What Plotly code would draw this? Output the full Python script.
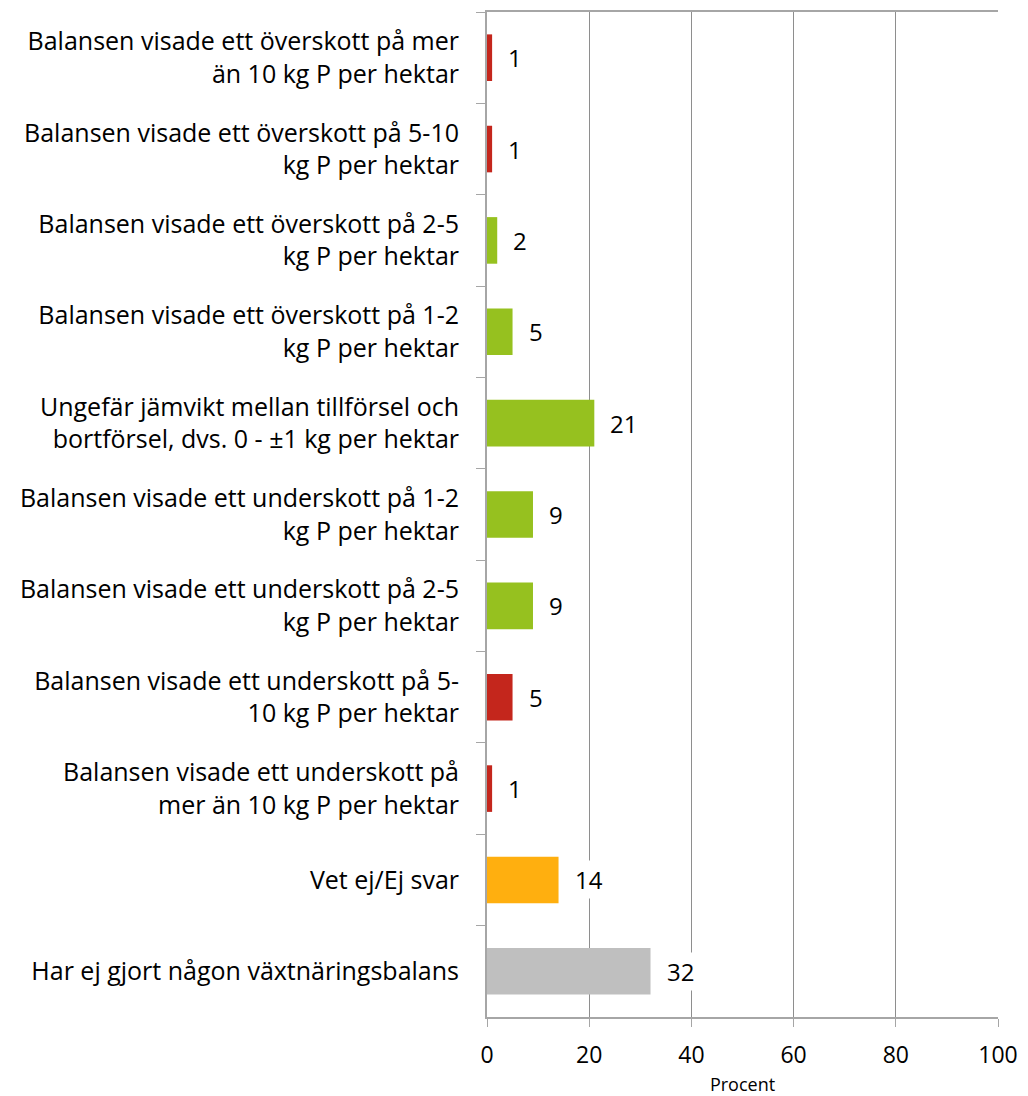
import plotly.graph_objects as go

# kategorier uppifrån och ned
categories = [
    "Balansen visade ett överskott på mer<br>än 10 kg P per hektar",
    "Balansen visade ett överskott på 5-10<br>kg P per hektar",
    "Balansen visade ett överskott på 2-5<br>kg P per hektar",
    "Balansen visade ett överskott på 1-2<br>kg P per hektar",
    "Ungefär jämvikt mellan tillförsel och<br>bortförsel, dvs. 0 - ±1 kg per hektar",
    "Balansen visade ett underskott på 1-2<br>kg P per hektar",
    "Balansen visade ett underskott på 2-5<br>kg P per hektar",
    "Balansen visade ett underskott på 5-<br>10 kg P per hektar",
    "Balansen visade ett underskott på<br>mer än 10 kg P per hektar",
    "Vet ej/Ej svar",
    "Har ej gjort någon växtnäringsbalans",
]
values = [1, 1, 2, 5, 21, 9, 9, 5, 1, 14, 32]

RED = "#C4261C"
GREEN = "#96C11F"
ORANGE = "#FFAF0F"
GRAY = "#BFBFBF"
colors = [RED, RED, GREEN, GREEN, GREEN, GREEN, GREEN, RED, RED, ORANGE, GRAY]

font = "Open Sans"

fig = go.Figure(go.Bar(
    x=values,
    y=categories,
    orientation="h",
    marker=dict(color=colors, line=dict(width=0)),
    width=0.51,
    hoverinfo="x+y",
))

# dataetiketter med vit bakgrund
for c, v in zip(categories, values):
    fig.add_annotation(
        x=v, y=c, text=str(v),
        xanchor="left", xshift=13,
        showarrow=False,
        bgcolor="white", borderpad=2,
        font=dict(family=font, size=24, color="black"),
    )

# sidan har 8 px marginal i body
fig.update_layout(
    width=1012, height=1088,
    margin=dict(l=479, r=19, t=2, b=79),
    paper_bgcolor="white",
    plot_bgcolor="white",
    showlegend=False,
    font=dict(family=font, size=25, color="black"),
    xaxis=dict(
        range=[0, 100],
        dtick=20,
        showgrid=True,
        gridcolor="#8E8E8E",
        gridwidth=1,
        zeroline=False,
        showline=True,
        linecolor="#A6A6A6",
        linewidth=2,
        mirror=True,
        ticks="outside",
        ticklen=8,
        tickcolor="#A6A6A6",
        ticklabelstandoff=8,
        ticklabeloverflow="allow",
        tickfont=dict(size=23),
        title=dict(text="Procent", font=dict(size=18), standoff=11),
    ),
    yaxis=dict(
        categoryorder="array",
        categoryarray=categories,
        autorange="reversed",
        showgrid=False,
        zeroline=False,
        showline=True,
        linecolor="#A6A6A6",
        linewidth=2,
        ticks="outside",
        tickson="boundaries",
        ticklen=9,
        tickcolor="#A6A6A6",
        ticklabelstandoff=21,
        tickfont=dict(size=25),
    ),
)

fig.write_html("out.html")
